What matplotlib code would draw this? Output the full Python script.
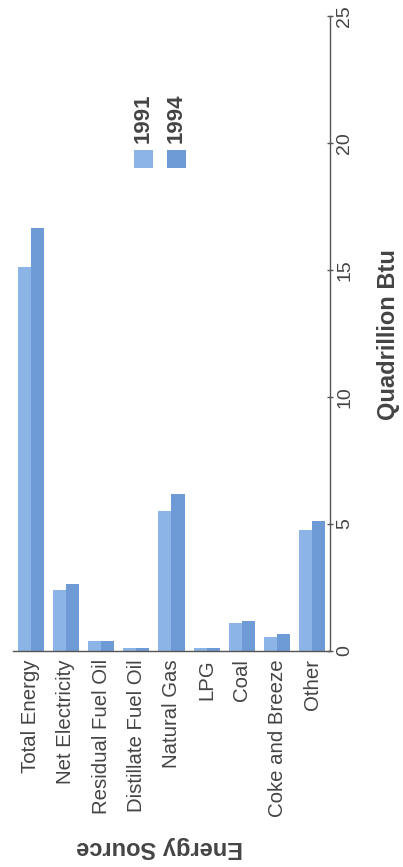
import matplotlib
matplotlib.use("Agg")
import matplotlib.pyplot as plt
from matplotlib.patches import Rectangle
import numpy as np

plt.rcParams['font.family'] = ['Liberation Sans', 'DejaVu Sans']

# Energy consumption by source (quadrillion Btu)
sources = ["Total Energy", "Net Electricity", "Residual Fuel Oil",
           "Distillate Fuel Oil", "Natural Gas", "LPG", "Coal",
           "Coke and Breeze", "Other"]
values_1991 = [15.1, 2.4, 0.4, 0.1, 5.5, 0.1, 1.1, 0.55, 4.75]
values_1994 = [16.65, 2.65, 0.4, 0.1, 6.2, 0.1, 1.2, 0.67, 5.1]
years = ["1991", "1994"]
value_ticks = [0, 5, 10, 15, 20, 25]

text_color = "#444444"
color_1991 = "#8db4e6"
color_1994 = "#6e9bd6"

W, H = 403, 867
fig = plt.figure(figsize=(W / 100, H / 100), dpi=100)
fig.patch.set_facecolor("white")

ax = fig.add_axes([13 / W, (H - 651) / H, 317 / W, 635 / H])
ax.set_facecolor("none")

x = np.arange(len(sources))
bw = 0.37
ax.bar(x - bw / 2, values_1991, width=bw, color=color_1991, linewidth=0)
ax.bar(x + bw / 2, values_1994, width=bw, color=color_1994, linewidth=0)

ax.set_xlim(-0.5, len(sources) - 0.5)
ax.set_ylim(0, 25)

for s in ["left", "top"]:
    ax.spines[s].set_visible(False)
for s in ["right", "bottom"]:
    ax.spines[s].set_color("#555555")
    ax.spines[s].set_linewidth(1.0)

ax.set_xticks(x)
ax.set_xticklabels(sources, rotation=90, ha="center", va="top",
                   fontsize=14.7, color=text_color)
ax.tick_params(axis="x", length=0, pad=6)

ax.yaxis.tick_right()
ax.set_yticks(value_ticks)
ax.set_yticklabels([str(v) for v in value_ticks], rotation=90,
                   va="center", ha="left", fontsize=14, color=text_color)
ax.tick_params(axis="y", direction="inout", length=5, width=1.0,
               color="#555555", pad=2)

# Axis titles
fig.text(388 / W, 1 - 335 / H, "Quadrillion Btu", rotation=90,
         ha="center", va="center", fontsize=17, fontweight="bold",
         color=text_color)
fig.text(160 / W, 1 - 848 / H, "Energy Source", rotation=180,
         ha="center", va="center", fontsize=17, fontweight="bold",
         color=text_color)

# Legend with upright swatches and rotated year labels
for cx, col, lab in [(143, color_1991, years[0]), (176, color_1994, years[1])]:
    fig.patches.append(Rectangle(((cx - 9.5) / W, 1 - 168 / H), 19 / W, 18 / H,
                                 transform=fig.transFigure, color=col,
                                 linewidth=0))
    fig.text(cx / W, 1 - 143 / H, lab, rotation=90, ha="center",
             va="bottom", fontsize=16, fontweight="bold", color=text_color)

fig.savefig("out.png", dpi=100)
